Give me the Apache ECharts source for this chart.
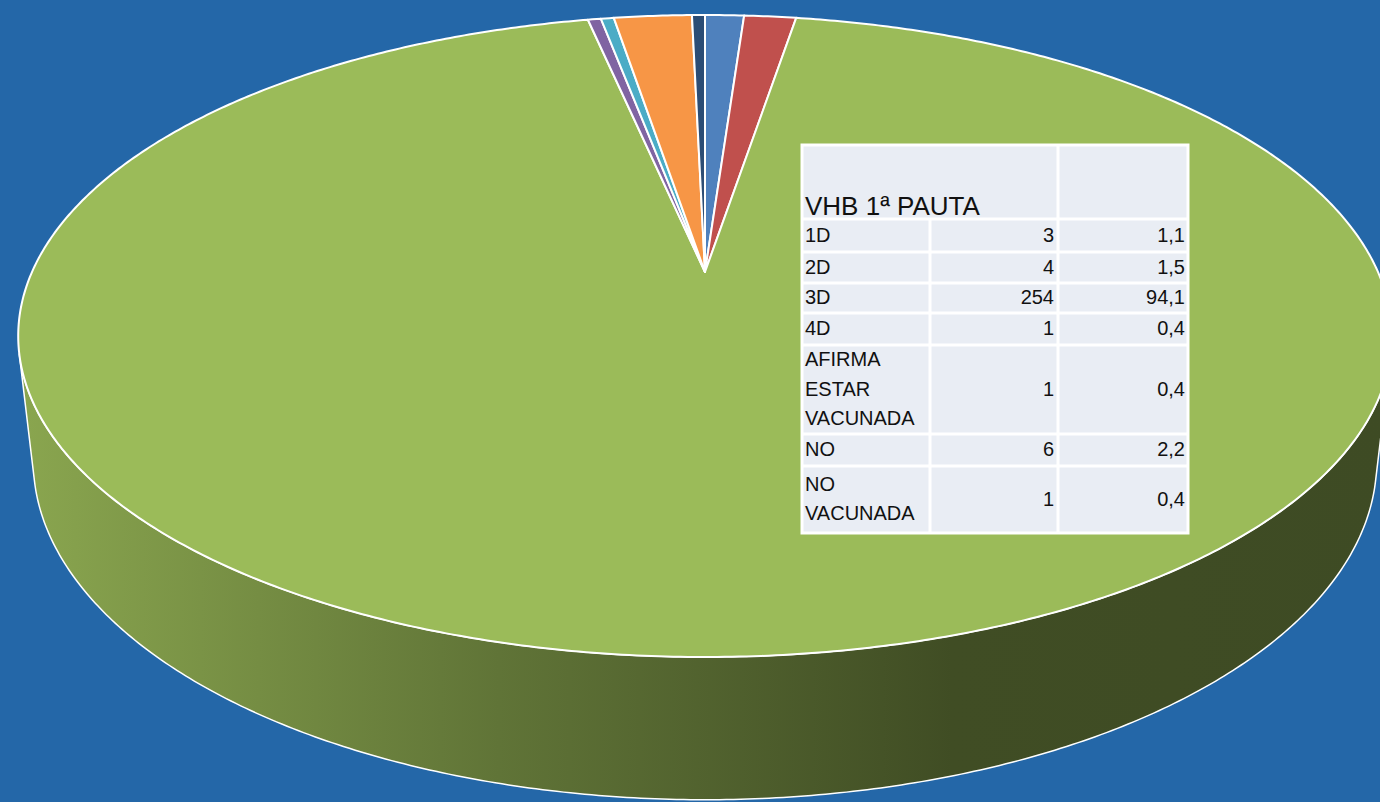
<!DOCTYPE html>
<html>
<head>
<meta charset="utf-8">
<script src="https://cdn.jsdelivr.net/npm/echarts@6/dist/echarts.min.js"></script>
<style>
  html, body { margin: 0; padding: 0; background: #2467A8; }
  #chart { width: 1380px; height: 802px; }
</style>
</head>
<body>
<div id="chart"></div>
<script>
// ---------- DATA ----------
const tableTitle = 'VHB 1ª PAUTA';
const categories = ['1D', '2D', '3D', '4D', 'AFIRMA ESTAR VACUNADA', 'NO', 'NO VACUNADA'];
const counts = [3, 4, 254, 1, 1, 6, 1];
const percents = ['1,1', '1,5', '94,1', '0,4', '0,4', '2,2', '0,4'];

// ---------- STYLE / LAYOUT ----------
const sliceColors = ['#4F81BD', '#C0504D', '#9BBB59', '#8064A2', '#4BACC6', '#F79646', '#2C4D75'];
const layout = {
  cx: 705, cy: 272, tiltSin: 0.458, persp: 0.1994, halfWidth: 673, depth: 0.21,
  tableX: [802, 930, 1058, 1188], tableTop: 145, headerH: 74,
  rowH: [33, 31, 30, 32, 89, 32, 67]
};

// ---------- 3D projection ----------
const S = layout.tiltSin, C = Math.sqrt(1 - S * S);
const L = C / layout.persp;
const F = layout.halfWidth * L;
const Hc = L * S, Dc = L * C;
function proj(thetaDeg, level) {
  const t = thetaDeg * Math.PI / 180;
  const X = Math.sin(t), Z = -Math.cos(t);
  const Y = level ? -layout.depth : 0;
  const dy = Y - Hc, dz = Z - Dc;
  const dep = dy * (-S) + dz * (-C);
  const yc = dy * C + dz * (-S);
  return [layout.cx + F * X / dep, layout.cy - F * yc / dep];
}
const total = counts.reduce((a, b) => a + b, 0);
const cum = [0];
counts.forEach((v, i) => cum.push(cum[i] + v));
function sliceAngles(i) { return [cum[i] / total * 360, cum[i + 1] / total * 360]; }

function shade(hex, f) {
  const n = parseInt(hex.slice(1), 16);
  const r = Math.round(((n >> 16) & 255) * f), g = Math.round(((n >> 8) & 255) * f), b = Math.round((n & 255) * f);
  return 'rgb(' + r + ',' + g + ',' + b + ')';
}
function arc(a0, a1, level) {
  const pts = [];
  const n = Math.max(2, Math.ceil((a1 - a0) / 0.5));
  for (let k = 0; k <= n; k++) pts.push(proj(a0 + (a1 - a0) * k / n, level));
  return pts;
}
const visLimit = Math.acos(-1 / Dc) * 180 / Math.PI;

function renderTop(params, api) {
  const i = params.dataIndex;
  const [a0, a1] = sliceAngles(i);
  const pts = [[layout.cx, layout.cy]].concat(arc(a0, a1, 0));
  return {
    type: 'polygon',
    shape: { points: pts },
    style: { fill: sliceColors[i], stroke: '#ffffff', lineWidth: 2, lineJoin: 'round' }
  };
}
function renderWall(params, api) {
  const i = params.dataIndex;
  let [a0, a1] = sliceAngles(i);
  a0 = Math.max(a0, visLimit);
  a1 = Math.min(a1, 360 - visLimit);
  if (a1 <= a0) return { type: 'group', children: [] };
  const top = arc(a0, a1, 0);
  const bot = arc(a0, a1, 1).reverse();
  const base = sliceColors[i];
  const grad = new echarts.graphic.LinearGradient(18, 0, 1392, 0, [
    { offset: 0, color: shade(base, 0.89) },
    { offset: 0.35, color: shade(base, 0.62) },
    { offset: 0.68, color: shade(base, 0.41) },
    { offset: 1, color: shade(base, 0.40) }
  ], true);
  return {
    type: 'polygon',
    shape: { points: top.concat(bot) },
    style: { fill: grad, stroke: '#ffffff', lineWidth: 1.5, lineJoin: 'round' }
  };
}

// ---------- TABLE ----------
const tx = layout.tableX;
const rowTops = [layout.tableTop + layout.headerH];
layout.rowH.forEach((h, i) => rowTops.push(rowTops[i] + h));
const tBottom = rowTops[rowTops.length - 1];
const font = { fontFamily: '"Liberation Sans", Arial, sans-serif', fontSize: 20, fill: '#111111' };
const g = [];
g.push({ type: 'rect', z: 100, shape: { x: tx[0], y: layout.tableTop, width: tx[3] - tx[0], height: tBottom - layout.tableTop },
  style: { fill: '#E9EDF4', stroke: '#ffffff', lineWidth: 3 } });
rowTops.slice(0, -1).forEach(y => g.push({ type: 'line', z: 101, shape: { x1: tx[0], y1: y, x2: tx[3], y2: y }, style: { stroke: '#ffffff', lineWidth: 3 } }));
g.push({ type: 'line', z: 101, shape: { x1: tx[1], y1: rowTops[0], x2: tx[1], y2: tBottom }, style: { stroke: '#ffffff', lineWidth: 3 } });
g.push({ type: 'line', z: 101, shape: { x1: tx[2], y1: layout.tableTop, x2: tx[2], y2: tBottom }, style: { stroke: '#ffffff', lineWidth: 3 } });
g.push({ type: 'text', z: 102, x: tx[0] + 3, y: rowTops[0] - 13,
  style: { text: tableTitle, fontFamily: font.fontFamily, fontSize: 26, fill: '#111111', align: 'left', verticalAlign: 'middle' } });
categories.forEach((cat, i) => {
  const yc = (rowTops[i] + rowTops[i + 1]) / 2 - 1;
  g.push({ type: 'text', z: 102, x: tx[0] + 3, y: yc,
    style: Object.assign({ text: cat, align: 'left', verticalAlign: 'middle', width: 122, overflow: 'break', lineHeight: 29.5 }, font) });
  g.push({ type: 'text', z: 102, x: tx[2] - 4, y: yc,
    style: Object.assign({ text: String(counts[i]), align: 'right', verticalAlign: 'middle' }, font) });
  g.push({ type: 'text', z: 102, x: tx[3] - 3, y: yc,
    style: Object.assign({ text: percents[i], align: 'right', verticalAlign: 'middle' }, font) });
});

const chart = echarts.init(document.getElementById('chart'), null, { renderer: 'svg', width: 1380, height: 802 });
const seriesData = counts.map((v, i) => ({ name: categories[i], value: v }));
chart.setOption({
  backgroundColor: '#2467A8',
  animation: false,
  series: [
    { type: 'custom', name: 'walls', coordinateSystem: 'none', z: 1, silent: true, data: seriesData, renderItem: renderWall },
    { type: 'custom', name: 'tops', coordinateSystem: 'none', z: 2, silent: true, data: seriesData, renderItem: renderTop }
  ],
  graphic: { elements: g }
});
</script>
</body>
</html>
